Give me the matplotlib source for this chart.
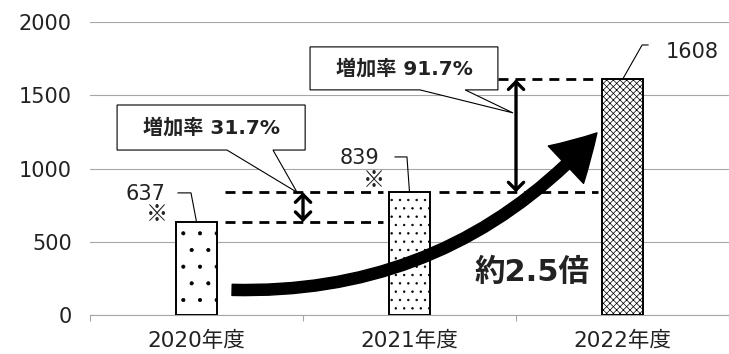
import matplotlib
matplotlib.use("Agg")
import matplotlib.pyplot as plt
from matplotlib.patches import FancyArrowPatch, Polygon

plt.rcParams["font.family"] = ["DejaVu Sans", "Noto Sans CJK JP"]
plt.rcParams["hatch.linewidth"] = 0.5

# data
years = ["2020年度", "2021年度", "2022年度"]
values = [637, 839, 1608]
rate_labels = ["増加率 31.7%", "増加率 91.7%"]
growth_label = "約2.5倍"
note_mark = "※"

hatches = [".", "..", "xxxxx"]
grid_grey = "#a6a6a6"
text_col = "#222222"

fig = plt.figure(figsize=(7.29, 3.54), dpi=100)
ax = fig.add_axes([0.1235, 0.109, 0.8765, 0.829])

x = list(range(len(years)))
ax.bar(x, values, width=0.19, color="white", edgecolor="black",
       linewidth=1.4, hatch=hatches, zorder=3)

ax.set_xlim(-0.5, 2.5)
ax.set_ylim(0, 2000)
ax.set_yticks([0, 500, 1000, 1500, 2000])
ax.yaxis.grid(True, color=grid_grey, linewidth=0.8, zorder=0)
ax.tick_params(axis="y", length=0, pad=13, labelsize=15, colors=text_col)

# category boundaries as major ticks, labels on minor ticks
ax.set_xticks([-0.5, 0.5, 1.5, 2.5])
ax.set_xticklabels([])
ax.set_xticks(x, minor=True)
ax.set_xticklabels(years, minor=True)
ax.tick_params(axis="x", which="major", length=4, color=grid_grey, width=0.8)
ax.tick_params(axis="x", which="minor", length=0, pad=11, labelsize=15.5,
               colors=text_col)

for side in ["left", "right", "top"]:
    ax.spines[side].set_visible(False)
ax.spines["bottom"].set_color(grid_grey)
ax.spines["bottom"].set_linewidth(0.8)

# value labels with leader lines
label_pos = [(-0.242, 828), (0.763, 1073), (2.326, 1796)]
elbow = [[(-0.087, 835), (-0.026, 835)],
         [(0.932, 1080), (0.988, 1080)],
         [(2.12, 1843), (2.092, 1843)]]
for i, v in enumerate(values):
    ax.text(label_pos[i][0], label_pos[i][1], str(v), ha="center",
            va="center", fontsize=15, color=text_col, zorder=5)
    (x0, y0), (x1, y1) = elbow[i]
    ax.plot([x0, x1, x[i]], [y0, y1, v], color="black", lw=0.8, zorder=4)

for mx, my in [(-0.185, 685), (0.833, 917)]:
    ax.text(mx, my, note_mark, ha="center", va="center", fontsize=16,
            family=["Noto Sans CJK JP"], color=text_col, zorder=5)

# dashed reference lines
dash_kw = dict(color="black", lw=2, dashes=(3.6, 2.5), zorder=4)
ax.plot([0.134, 0.876], [values[0], values[0]], **dash_kw)
ax.plot([0.134, 0.876], [values[1], values[1]], **dash_kw)
ax.plot([1.138, 1.885], [values[1], values[1]], **dash_kw)
ax.plot([1.415, 1.885], [values[2], values[2]], **dash_kw)

# double arrows
arrow_kw = dict(arrowstyle="<->,head_length=0.55,head_width=0.55",
                color="black", lw=2.4, mutation_scale=10,
                shrinkA=0, shrinkB=0, joinstyle="miter")
for xa, lo, hi in [(0.5, values[0], values[1]), (1.5, values[1], values[2])]:
    ax.annotate("", xy=(xa, hi), xytext=(xa, lo), arrowprops=arrow_kw,
                zorder=6)

# callout boxes
def callout(x0, x1, y0, y1, w0, w1, tip, text):
    pts = [(x0, y0), (w0, y0), tip, (w1, y0), (x1, y0), (x1, y1), (x0, y1)]
    ax.add_patch(Polygon(pts, closed=True, facecolor="white",
                         edgecolor="black", lw=0.8, zorder=7))
    ax.text((x0 + x1) / 2, (y0 + y1) / 2, text, ha="center", va="center",
            fontsize=14.5, fontweight="bold", color=text_col, zorder=8)

callout(-0.373, 0.51, 1127, 1434, 0.143, 0.359, (0.472, 839), rate_labels[0])
callout(0.533, 1.415, 1537, 1830, 1.049, 1.261, (1.486, 1380), rate_labels[1])

# big curved arrow
big = FancyArrowPatch((0.167, 174), (1.88, 1244),
                      connectionstyle="arc3,rad=0.23",
                      arrowstyle="Simple,tail_width=8,head_width=37,head_length=32",
                      mutation_scale=1, color="black", shrinkA=0, shrinkB=0,
                      zorder=6)
ax.add_patch(big)

ax.text(1.575, 290, growth_label, ha="center", va="center", fontsize=22,
        fontweight="bold", color=text_col, zorder=8)

fig.savefig("out.png", dpi=100)
